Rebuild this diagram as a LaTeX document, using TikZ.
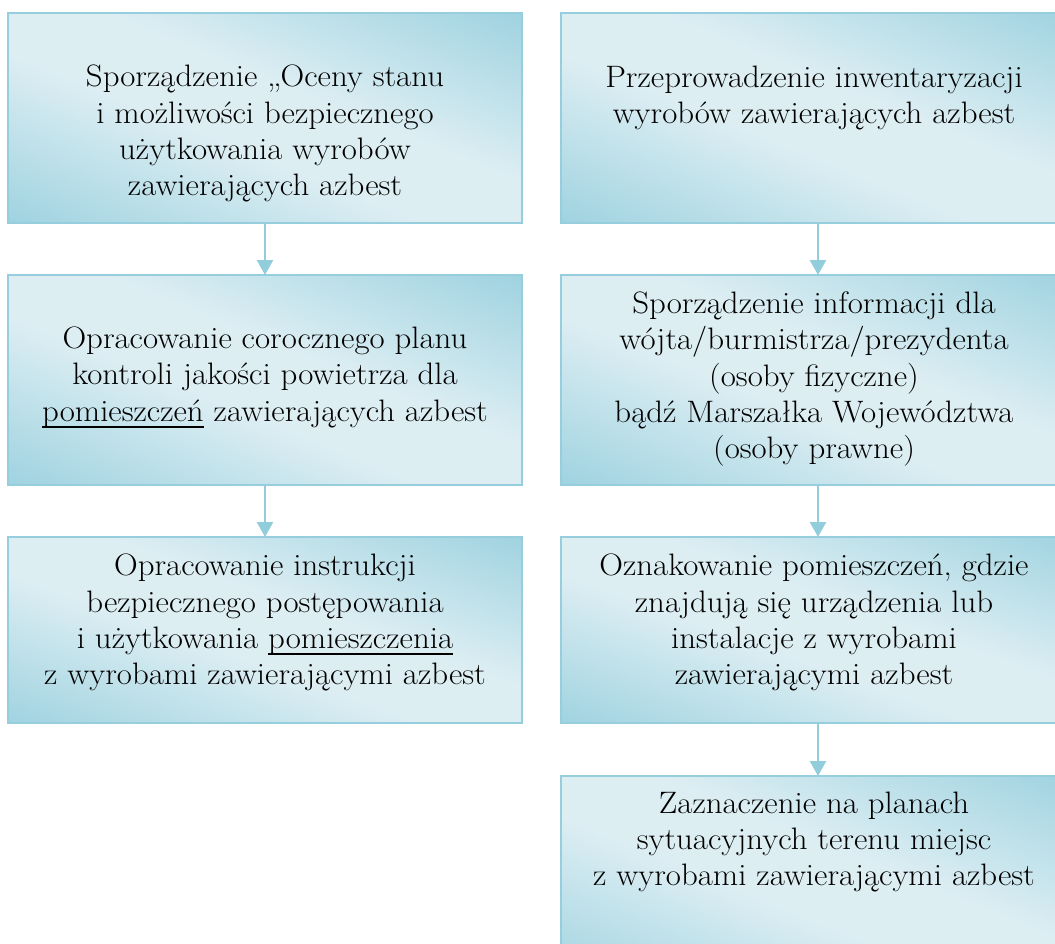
\documentclass[tikz,border=0pt]{standalone}
\usepackage{fontspec}
\setmainfont{Latin Modern Roman}[FakeStretch=1.06]
\usetikzlibrary{arrows.meta}
\definecolor{lt}{RGB}{221,238,243}
\definecolor{dk}{RGB}{146,205,220}
\definecolor{edge}{RGB}{150,206,222}
\pgfdeclareverticalshading{boxshade}{100bp}{color(0bp)=(dk); color(12bp)=(dk); color(44bp)=(lt); color(56bp)=(lt); color(88bp)=(dk); color(100bp)=(dk)}
\newcommand{\myul}[1]{\setbox0\hbox{#1}\rlap{\rule[-6.5pt]{\wd0}{1.8pt}}\box0\relax}
\tikzset{
  box/.style={draw=edge, line width=1.5pt, shade, shading=boxshade,
    rectangle, inner sep=0pt, outer sep=0pt, minimum width=514pt, anchor=north west},
  tallbox/.style={box, minimum height=210pt, shading angle=-22.2},
  lowbox/.style={box, minimum height=186pt, shading angle=-19.9},
  txt/.style={align=center, inner sep=0pt, anchor=north,
    font=\fontsize{31}{36.3}\selectfont, execute at begin node=\strut},
  conn/.style={draw=dk, line width=2.5pt, -{Triangle[width=16pt,length=15pt]}}
}
\begin{document}
\begin{tikzpicture}[x=1pt,y=-1pt]
\useasboundingbox (0,0) rectangle (1055,943);
\begin{scope}
\clip (0,0) rectangle (1055,943);
% boxes
\node[tallbox] (l1) at (8,13) {};
\node[tallbox] (l2) at (8,275) {};
\node[lowbox] (l3) at (8,537) {};
\node[tallbox] (r1) at (561,13) {};
\node[tallbox] (r2) at (561,275) {};
\node[lowbox] (r3) at (561,537) {};
\node[tallbox] (r4) at (561,776) {};
% texts
\node[txt] (t1) at (265,65.1) {Sporządzenie „Oceny stanu\\ i możliwości bezpiecznego\\ użytkowania wyrobów\\ zawierających azbest};
\node[txt] (t2) at (265,326.6) {Opracowanie corocznego planu\\ kontroli jakości powietrza dla\\ \myul{pomieszczeń} zawierających azbest};
\node[txt] (t3) at (265,554.1) {Opracowanie instrukcji\\ bezpiecznego postępowania\\ i użytkowania \myul{pomieszczenia}\\ z wyrobami zawierającymi azbest};
\node[txt] (t4) at (814,65.6) {Przeprowadzenie inwentaryzacji\\ wyrobów zawierających azbest};
\node[txt] (t5) at (814,291.6) {Sporządzenie informacji dla\\ wójta/burmistrza/prezydenta\\ (osoby fizyczne)\\ bądź Marszałka Województwa\\ (osoby prawne)};
\node[txt] (t6) at (814,553.9) {Oznakowanie pomieszczeń, gdzie\\ znajdują się urządzenia lub\\ instalacje z wyrobami\\ zawierającymi azbest};
\node[txt] (t7) at (814,791.3) {Zaznaczenie na planach\\ sytuacyjnych terenu miejsc\\ z wyrobami zawierającymi azbest};
% connectors
\draw[conn] (l1.south) -- (l2.north);
\draw[conn] (l2.south) -- (l3.north);
\draw[conn] (r1.south) -- (r2.north);
\draw[conn] (r2.south) -- (r3.north);
\draw[conn] (r3.south) -- (r4.north);
\end{scope}
\end{tikzpicture}
\end{document}
